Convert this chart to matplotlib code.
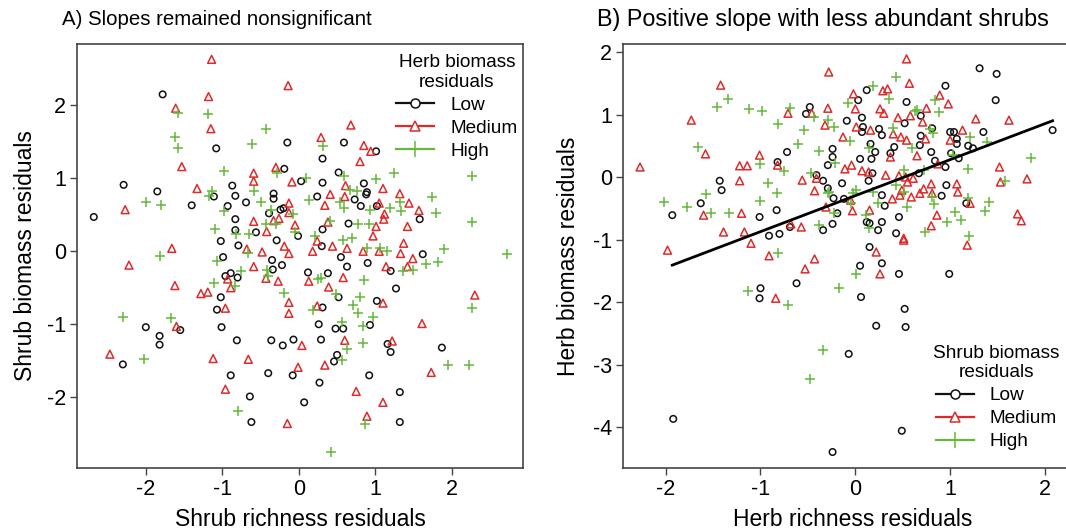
import matplotlib
matplotlib.use("Agg")
import matplotlib.pyplot as plt
from matplotlib.lines import Line2D
import numpy as np

plt.rcParams['font.family'] = ['Liberation Sans', 'DejaVu Sans']
plt.rcParams['axes.unicode_minus'] = False

# ---- panel A: shrub richness residuals vs shrub biomass residuals, by herb biomass class
a_low = [(-1.78,2.15),(-1.08,1.41),(-0.15,1.49),(-0.19,1.13),(-2.29,0.91),(-0.87,0.90),(-1.85,0.82),
         (-0.33,0.79),(-0.83,0.76),(-1.11,0.75),(-0.33,0.72),(-1.40,0.63),(-0.93,0.62),(-0.69,0.67),
         (-0.24,0.57),(-0.39,0.52),(-0.20,0.59),(-2.68,0.47),(-0.83,0.44),(-0.83,0.29),(-0.56,0.26),
         (-1.02,0.14),(-0.29,0.15),(-0.79,0.08),(-0.99,-0.08),(-0.35,-0.12),(-0.22,-0.19),(-0.34,-0.25),
         (-0.89,-0.30),(-0.96,-0.34),(-0.80,-0.36),(-1.02,-0.63),(-1.07,-0.80),(-2.00,-1.04),(-1.01,-1.04),
         (-1.55,-1.08),(-1.82,-1.16),(-1.82,-1.28),(-0.81,-1.22),(-0.36,-1.22),(-0.21,-1.29),(-2.30,-1.55),
         (-0.89,-1.70),(-0.40,-1.67),(-0.64,-1.99),(-0.62,-2.34),(0.03,0.96),(-0.01,0.21),(0.12,-0.29),
         (-0.07,-1.21),(0.59,1.49),(1.01,1.37),(0.31,1.27),(0.52,1.08),(0.31,0.94),(0.85,0.93),(0.89,0.81),
         (0.88,0.78),(0.24,0.75),(0.73,0.71),(0.81,0.62),(1.02,0.62),(1.58,0.44),(0.65,0.38),(0.31,0.30),
         (0.30,0.07),(0.55,-0.08),(1.62,-0.04),(0.90,-0.16),(0.63,-0.21),(1.20,-0.27),(0.38,-0.30),
         (1.27,-0.51),(0.52,-0.63),(1.02,-0.68),(0.31,-0.77),(0.26,-1.00),(0.48,-1.06),(0.58,-1.06),
         (0.93,-1.01),(0.29,-1.21),(1.16,-1.27),(1.20,-1.38),(0.50,-1.42),(0.46,-1.51),(1.87,-1.32),
         (1.32,-1.93),(0.92,-1.70),(1.32,-2.34),(0.07,-2.07),(0.27,-1.80),(-0.08,-1.70)]
a_med = [(-1.14,2.63),(-1.18,2.12),(-1.61,1.96),(-1.15,1.68),(-1.53,1.16),(-0.30,1.15),(-0.59,1.07),
         (-0.59,0.96),(-1.33,0.86),(-0.13,0.66),(-2.27,0.57),(-0.13,0.53),(-0.26,0.45),(-0.33,0.42),
         (-0.59,0.41),(-0.42,0.27),(-0.19,0.07),(-1.66,0.04),(-0.68,0.03),(-0.48,-0.01),(-0.13,-0.03),
         (-2.22,-0.19),(-0.59,-0.21),(-0.93,-0.38),(-0.43,-0.37),(-0.27,-0.41),(-1.62,-0.47),(-0.89,-0.50),
         (-1.28,-0.58),(-1.19,-0.56),(-0.96,-0.78),(-0.13,-0.70),(-0.13,-0.85),(-1.60,-1.03),(-2.47,-1.41),
         (-1.12,-1.47),(-0.66,-1.48),(-0.96,-1.89),(-0.15,-2.36),(-0.09,0.95),(-0.05,0.36),(0.13,-0.41),
         (0.04,-1.29),(-0.01,-1.59),(0.85,1.45),(0.94,1.37),(0.80,1.23),(0.61,0.90),(1.10,0.86),(1.32,0.79),
         (0.41,0.78),(0.60,0.75),(1.44,0.66),(0.34,0.63),(1.05,0.66),(1.57,0.56),(1.12,0.51),(1.11,0.44),
         (0.38,0.40),(1.01,0.34),(1.42,0.34),(0.97,0.21),(0.24,0.14),(1.37,0.11),(0.18,0.00),(0.44,0.07),
         (0.63,0.04),(0.84,0.00),(1.05,0.00),(1.33,-0.03),(1.49,-0.10),(1.14,-0.21),(1.42,-0.21),(0.58,-0.36),
         (0.39,-0.49),(1.10,-0.71),(0.24,-0.75),(1.61,-0.99),(0.60,-1.22),(1.22,-1.23),(0.34,-1.56),
         (-0.14,2.27),(0.68,1.73),(0.29,1.56),(2.30,-0.60),(1.73,-1.66),(1.10,-2.07),(0.75,-1.92),(0.89,-2.26)]
a_high = [(-1.58,1.90),(-1.19,1.88),(-0.43,1.68),(-1.62,1.56),(-1.58,1.42),(-0.61,1.47),(-0.98,1.10),
          (-0.28,1.07),(-1.13,0.83),(-0.58,0.83),(-1.17,0.76),(-2.00,0.67),(-1.80,0.64),(-0.49,0.67),
          (-0.37,0.56),(-0.98,0.55),(-0.43,0.38),(-0.30,0.38),(-1.10,0.30),(-0.82,0.24),(-0.65,0.23),
          (-1.81,-0.07),(-1.07,-0.14),(-0.66,-0.02),(-0.42,-0.25),(-0.76,-0.27),(-0.40,-0.34),(-1.11,-0.44),
          (-0.84,-0.47),(-0.20,-0.57),(-2.30,-0.90),(-1.67,-0.92),(-2.02,-1.47),(-0.80,-2.19),(0.10,1.01),
          (0.13,0.70),(-0.08,0.51),(-0.05,0.27),(0.31,1.44),(1.25,1.07),(0.59,1.03),(1.01,0.99),(0.67,0.84),
          (0.76,0.82),(0.54,0.68),(1.32,0.67),(0.59,0.59),(0.93,0.56),(1.19,0.59),(1.33,0.55),(0.41,0.42),
          (0.78,0.37),(0.92,0.38),(0.21,0.21),(0.58,0.16),(0.69,0.18),(0.89,0.05),(1.06,0.05),(1.15,0.00),
          (1.66,-0.18),(1.36,-0.27),(1.49,-0.25),(0.25,-0.38),(0.29,-0.36),(0.85,-0.40),(0.48,-0.59),
          (0.80,-0.62),(0.71,-0.74),(0.77,-0.84),(0.18,-0.80),(0.97,-0.90),(0.56,-0.97),(0.84,-1.03),
          (0.84,-1.26),(0.63,-1.34),(0.56,-1.49),(2.26,1.03),(1.74,0.75),(1.79,0.53),(2.27,0.40),
          (2.72,-0.04),(1.90,0.03),(1.82,-0.15),(2.27,-0.78),(1.95,-1.56),(2.22,-1.56),(0.86,-2.37),(0.42,-2.75)]

# ---- panel B: herb richness residuals vs herb biomass residuals, by shrub biomass class
b_low = [(-0.48,1.12),(-0.52,1.01),(-0.72,0.40),(-0.82,0.24),(-0.29,0.19),(-1.43,-0.06),(-0.41,0.03),
         (-0.34,-0.06),(-0.29,-0.18),(-1.41,-0.21),(-1.63,-0.42),(-0.83,-0.53),(-1.93,-0.61),(-1.01,-0.64),
         (-0.69,-0.80),(-0.34,-0.85),(-0.91,-0.94),(-0.80,-0.91),(-1.00,-1.78),(-1.01,-1.94),(-0.62,-1.70),
         (-1.92,-3.87),(0.15,-1.12),(0.05,-1.42),(0.28,-1.38),(0.46,-1.55),(0.99,-1.55),(0.06,-1.92),
         (0.52,-2.11),(0.22,-2.38),(0.53,-2.40),(-0.07,-2.83),(0.49,-4.06),(-0.24,-4.40),(1.31,1.74),
         (1.49,1.65),(0.95,1.46),(0.12,1.39),(0.03,1.23),(1.48,1.23),(0.54,1.20),(0.69,0.98),(0.07,0.95),
         (-0.09,0.90),(0.52,0.86),(0.08,0.80),(0.81,0.78),(0.25,0.77),(0.28,0.67),(0.07,0.72),(1.00,0.72),
         (1.04,0.72),(1.35,0.72),(0.69,0.66),(2.08,0.75),(1.07,0.61),(1.07,0.53),(1.19,0.50),(1.24,0.46),
         (0.16,0.53),(0.41,0.48),(-0.24,0.45),(0.68,0.51),(0.21,0.40),(0.80,0.40),(0.37,0.38),(-0.24,0.32),
         (1.01,0.38),(1.09,0.30),(0.05,0.29),(0.17,0.29),(0.84,0.26),(0.95,0.16),(0.18,0.06),(0.67,0.06),
         (0.14,-0.06),(-0.14,-0.10),(0.28,-0.29),(0.91,-0.30),(-0.23,-0.34),(-0.12,-0.35),(0.31,-0.46),
         (1.17,-0.42),(-0.19,-0.58),(0.46,-0.64),(0.12,-0.72),(0.15,-0.74),(0.28,-0.72),(-0.24,-0.75),
         (0.24,-0.85),(0.43,-0.90),(0.96,-0.13)]
b_med = [(-2.27,0.16),(-1.42,1.47),(-1.73,0.91),(-0.71,1.02),(-0.46,1.02),(-0.29,1.10),(-0.28,1.68),
         (-0.32,0.83),(-1.58,0.37),(-1.01,0.35),(-1.22,0.18),(-1.14,0.18),(-0.82,0.19),(-1.22,-0.06),
         (-0.56,-0.05),(-0.41,-0.02),(-0.43,-0.22),(-0.31,-0.48),(-1.60,-0.61),(-1.20,-0.58),(-0.68,-0.75),
         (-0.57,-0.80),(-1.39,-0.88),(-1.17,-0.88),(-1.10,-1.06),(-0.91,-1.26),(-1.98,-1.17),(-0.43,-1.31),
         (-0.53,-1.47),(-0.84,-1.94),(0.22,-1.20),(1.18,-1.09),(0.51,-1.01),(0.26,-1.55),(0.54,1.89),
         (0.57,1.50),(0.29,1.38),(0.34,1.41),(-0.02,1.33),(0.89,1.31),(0.98,1.17),(0.00,1.09),(0.26,1.09),
         (0.30,1.02),(0.75,1.10),(0.58,0.98),(0.45,0.95),(1.27,0.93),(1.62,0.91),(0.71,0.88),(0.01,0.80),
         (0.16,0.75),(1.13,0.75),(0.40,0.69),(0.48,0.64),(0.54,0.59),(-0.13,0.64),(0.74,0.61),(1.00,0.59),
         (0.37,0.32),(0.65,0.34),(-0.04,0.19),(0.87,0.21),(-0.11,0.13),(0.07,0.10),(0.14,0.08),(1.52,0.16),
         (0.32,0.03),(0.46,0.02),(0.53,0.00),(1.81,-0.03),(0.55,-0.08),(0.61,-0.02),(0.80,-0.11),(1.07,-0.11),
         (1.53,-0.08),(0.49,-0.21),(0.47,-0.29),(0.68,-0.26),(0.72,-0.19),(0.81,-0.26),(1.08,-0.24),
         (-0.05,-0.37),(0.59,-0.32),(0.39,-0.35),(1.21,-0.42),(-0.03,-0.54),(0.15,-0.53),(0.86,-0.61),
         (1.71,-0.59),(1.75,-0.70),(0.80,-0.78),(0.51,-0.98)]
b_high = [(-1.34,1.25),(-1.46,1.12),(-1.12,1.09),(-0.98,1.06),(-0.69,1.10),(-0.44,0.96),(-0.29,0.91),
          (-0.82,0.85),(-0.54,0.75),(-1.66,0.48),(-0.60,0.53),(-0.38,0.42),(-1.00,0.21),(-0.75,0.10),
          (-0.47,0.06),(-0.92,-0.10),(-0.83,-0.26),(-1.57,-0.27),(-0.29,-0.26),(-2.02,-0.40),(-1.01,-0.38),
          (-1.78,-0.48),(-1.52,-0.58),(-1.33,-0.58),(-0.38,-0.77),(-0.82,-1.22),(-1.13,-1.82),(-0.71,-2.05),
          (-0.34,-2.77),(-0.48,-3.23),(0.01,-1.55),(-0.17,-1.78),(0.43,1.60),(0.19,1.46),(0.36,1.25),
          (0.84,1.23),(0.88,1.04),(-0.08,1.18),(0.65,1.07),(0.63,1.06),(-0.22,0.80),(0.79,0.77),(0.82,0.70),
          (0.40,0.78),(-0.06,0.58),(1.21,0.64),(1.39,0.56),(0.14,0.46),(0.60,0.46),(1.03,0.35),(1.85,0.30),
          (-0.21,0.22),(1.19,0.13),(0.51,0.11),(0.43,-0.13),(1.58,-0.06),(-0.28,-0.24),(0.01,-0.21),
          (-0.02,-0.26),(0.51,-0.24),(0.19,-0.24),(0.81,-0.32),(1.19,-0.34),(0.54,-0.48),(1.41,-0.40),
          (1.37,-0.54),(0.24,-0.42),(-0.05,-0.42),(-0.23,-0.58),(0.83,-0.43),(1.05,-0.56),(0.11,-0.61),
          (1.11,-0.69),(0.97,-0.72),(0.14,-0.82),(0.73,-0.88),(1.20,-0.94),(0.72,0.12)]

# fitted line in panel B (start/end x, intercept, slope)
fit_x = [-1.93, 2.08]
fit_b0 = -0.298
fit_b1 = 0.576

labels = ['Low', 'Medium', 'High']
colors = ['#111111', '#DD2B2B', '#66B83A']
markers = ['o', '^', '+']
sizes = [22, 32, 62]

fig = plt.figure(figsize=(10.66, 5.31), dpi=100)
axA = fig.add_axes([0.0722, 0.1186, 0.4184, 0.7985])
axB = fig.add_axes([0.5844, 0.1186, 0.4315, 0.7985])


def draw(ax, groups):
    for pts, c, m, s in zip(groups, colors, markers, sizes):
        p = np.array(pts)
        if m == '+':
            ax.scatter(p[:, 0], p[:, 1], marker=m, s=s, c=c, linewidths=1.1, zorder=3)
        else:
            ax.scatter(p[:, 0], p[:, 1], marker=m, s=s, facecolors='none', edgecolors=c,
                       linewidths=1.1, zorder=3)
    for sp in ax.spines.values():
        sp.set_color('#444444')
        sp.set_linewidth(1.2)
    ax.tick_params(direction='out', length=5, width=1.0, color='#444444', labelsize=15.5, pad=3)


def leg(ax, title, **kw):
    hs = []
    for c, m in zip(colors, markers):
        if m == '+':
            hs.append(Line2D([0], [0], color=c, marker=m, markersize=11, markeredgewidth=1.1, lw=1.6))
        else:
            hs.append(Line2D([0], [0], color=c, marker=m, markersize=6.5, markerfacecolor='white',
                             markeredgewidth=1.1, lw=1.6))
    L = ax.legend(hs, labels, title=title, frameon=False, fontsize=13.7, title_fontsize=13.7,
                  handlelength=2.0, handletextpad=0.85, labelspacing=0.3, borderpad=0.2, **kw)
    L.get_title().set_multialignment('center')
    return L


draw(axA, [a_low, a_med, a_high])
axA.set_xlim(-2.90, 2.93)
axA.set_ylim(-2.97, 2.84)
axA.set_xticks([-2, -1, 0, 1, 2])
axA.set_yticks([-2, -1, 0, 1, 2])
axA.set_xlabel('Shrub richness residuals', fontsize=16.5, labelpad=6)
axA.set_ylabel('Shrub biomass residuals', fontsize=16.5, labelpad=7)
leg(axA, 'Herb biomass\nresiduals', loc='upper right', bbox_to_anchor=(1.018, 1.008))

draw(axB, [b_low, b_med, b_high])
xx = np.array(fit_x)
axB.plot(xx, fit_b0 + fit_b1 * xx, color='black', lw=2.0, zorder=4)
axB.set_xlim(-2.45, 2.4)
axB.set_ylim(-4.656, 2.128)
axB.set_xticks([-2, -1, 0, 1, 2])
axB.set_yticks([-4, -3, -2, -1, 0, 1, 2])
axB.set_xlabel('Herb richness residuals', fontsize=16.5, labelpad=6)
axB.set_ylabel('Herb biomass residuals', fontsize=16.5, labelpad=9)
leg(axB, 'Shrub biomass\nresiduals', loc='lower right', bbox_to_anchor=(0.978, 0.01))

fig.text(0.058, 0.964, 'A) Slopes remained nonsignificant', fontsize=14.7, va='center', ha='left')
fig.text(0.560, 0.964, 'B) Positive slope with less abundant shrubs', fontsize=16.8, va='center', ha='left')

fig.savefig('out.png', dpi=100)
